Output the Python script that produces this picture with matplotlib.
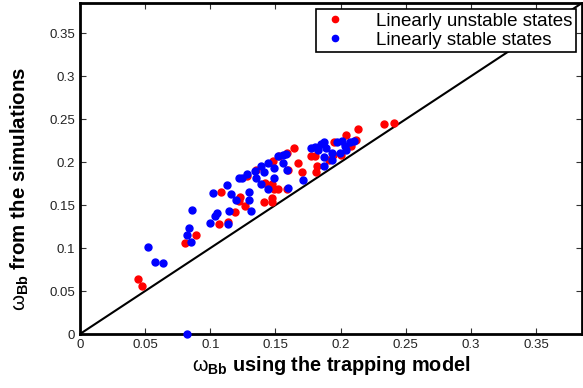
import numpy as np
import matplotlib.pyplot as plt

plt.rcParams['font.family'] = ['Liberation Sans', 'DejaVu Sans']
plt.rcParams['mathtext.fontset'] = 'custom'
plt.rcParams['mathtext.rm'] = 'Liberation Sans'
plt.rcParams['mathtext.bf'] = 'Liberation Sans:bold'
plt.rcParams['mathtext.it'] = 'Liberation Sans:italic'

# linearly unstable states (red)
unstable_x = [0.0446, 0.048, 0.0806, 0.0893, 0.107, 0.1135, 0.108, 0.119, 0.123, 0.122,
              0.127, 0.128, 0.135, 0.142, 0.147, 0.149, 0.152, 0.141, 0.147, 0.147,
              0.148, 0.153, 0.159, 0.164, 0.160, 0.159, 0.167, 0.170, 0.177, 0.180,
              0.182, 0.181, 0.191, 0.194, 0.195, 0.200, 0.204, 0.208, 0.212, 0.213,
              0.233, 0.241]
unstable_y = [0.0646, 0.0564, 0.106, 0.115, 0.128, 0.130, 0.165, 0.142, 0.159, 0.155,
              0.149, 0.184, 0.191, 0.176, 0.175, 0.169, 0.169, 0.154, 0.158, 0.154,
              0.201, 0.207, 0.211, 0.216, 0.191, 0.169, 0.199, 0.188, 0.207, 0.207,
              0.196, 0.189, 0.202, 0.208, 0.223, 0.208, 0.231, 0.219, 0.226, 0.238,
              0.244, 0.246]

# linearly stable states (blue)
stable_x = [0.082, 0.052, 0.058, 0.064, 0.082, 0.0837, 0.0855, 0.0857, 0.0997, 0.102,
            0.104, 0.105, 0.1135, 0.114, 0.113, 0.116, 0.120, 0.122, 0.124, 0.128,
            0.130, 0.130, 0.131, 0.134, 0.135, 0.139, 0.141, 0.139, 0.144, 0.144,
            0.149, 0.149, 0.152, 0.156, 0.156, 0.158, 0.159, 0.160, 0.171, 0.177,
            0.180, 0.183, 0.185, 0.1875, 0.189, 0.1875, 0.187, 0.193, 0.193, 0.197,
            0.1995, 0.201, 0.203, 0.204, 0.207, 0.210]
stable_y = [0.0, 0.101, 0.084, 0.083, 0.115, 0.123, 0.107, 0.144, 0.129, 0.164,
            0.137, 0.141, 0.128, 0.143, 0.173, 0.163, 0.156, 0.181, 0.182, 0.186,
            0.156, 0.165, 0.143, 0.190, 0.182, 0.195, 0.188, 0.174, 0.169, 0.199,
            0.193, 0.182, 0.207, 0.199, 0.208, 0.210, 0.191, 0.170, 0.179, 0.216,
            0.218, 0.214, 0.221, 0.223, 0.217, 0.206, 0.196, 0.211, 0.202, 0.223,
            0.211, 0.225, 0.219, 0.214, 0.223, 0.225]

ticks = [0, 0.05, 0.1, 0.15, 0.2, 0.25, 0.3, 0.35]
tick_labels = ['0', '0.05', '0.1', '0.15', '0.2', '0.25', '0.3', '0.35']
lim = 0.385

fig = plt.figure(figsize=(5.83, 3.88), dpi=100)
ax = fig.add_axes([0.137, 0.139, 0.861, 0.853])

ax.plot([0, lim], [0, lim], color='black', lw=1.5, zorder=1)
ax.plot(unstable_x, unstable_y, 'o', color='red', ms=5, mec='red',
        label='Linearly unstable states', clip_on=False, zorder=3)
ax.plot(stable_x, stable_y, 'o', color='blue', ms=5, mec='blue',
        label='Linearly stable states', clip_on=False, zorder=3)

ax.set_xlim(0, lim)
ax.set_ylim(0, lim)
ax.set_xticks(ticks)
ax.set_xticklabels(tick_labels)
ax.set_yticks(ticks)
ax.set_yticklabels(tick_labels)
ax.tick_params(direction='in', top=True, right=True, length=4, width=0.8,
               labelsize=9.5, colors='#333333', labelcolor='#222222')
for s in ax.spines.values():
    s.set_linewidth(2)

ax.set_xlabel(r'$\mathrm{\omega}_{\mathbf{Bb}}$ using the trapping model', fontsize=14.3,
              fontweight='bold', labelpad=2)
ax.set_ylabel(r'$\mathrm{\omega}_{\mathbf{Bb}}$ from the simulations', fontsize=14.8,
              fontweight='bold')
ax.yaxis.set_label_coords(-0.097, 0.44)

leg = ax.legend(loc='upper right', numpoints=1, fontsize=13.5, fancybox=False,
                framealpha=1, edgecolor='black', borderaxespad=0.3,
                handletextpad=1.4, handlelength=1.6, borderpad=0.2,
                labelspacing=0.1, markerscale=0.9)
leg.get_frame().set_linewidth(1.2)

fig.savefig('out.png', dpi=100)
